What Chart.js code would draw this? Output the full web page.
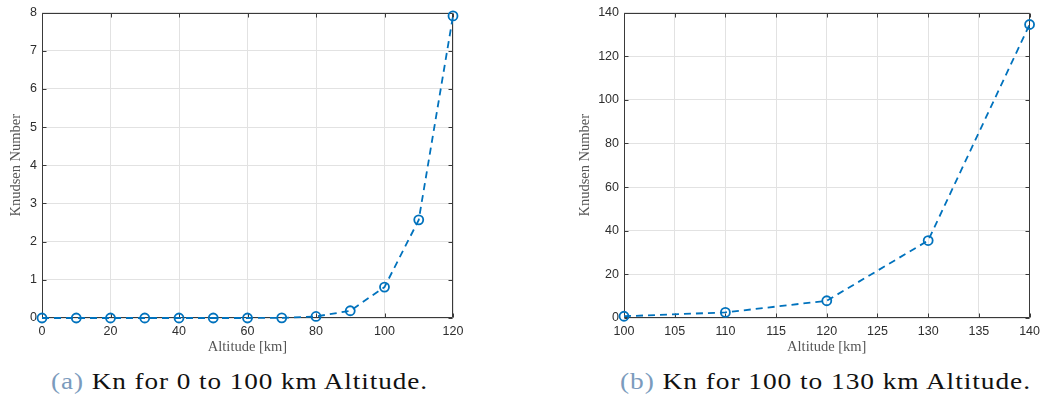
<!DOCTYPE html>
<html>
<head>
<meta charset="utf-8">
<script src="https://cdn.jsdelivr.net/npm/chart.js@4.4.1/dist/chart.umd.min.js"></script>
<style>
  html, body { margin: 0; padding: 0; background: #fff; }
  #page { position: relative; width: 1046px; height: 403px; overflow: hidden; background: #fff; }
  .panel { position: absolute; top: 0; height: 360px; }
  .cap {
    position: absolute; top: 369px;
    font-family: "Liberation Serif", "Times New Roman", serif;
    font-size: 23.5px; line-height: 24px; color: #111; letter-spacing: 0.8px;
    white-space: nowrap; transform-origin: 0 0;
  }
  .cap .tag { color: #7b9bbd; }
</style>
</head>
<body>
<div id="page">
  <div class="panel" style="left:0; width:470px;"><canvas id="lowChart" width="470" height="360"></canvas></div>
  <div class="panel" style="left:560px; width:486px;"><canvas id="highChart" width="486" height="360"></canvas></div>
  <div class="cap" id="capLow" data-left="51" data-width="377"><span class="tag">(a)</span> Kn for 0 to 100 km Altitude.</div>
  <div class="cap" id="capHigh" data-left="620" data-width="411"><span class="tag">(b)</span> Kn for 100 to 130 km Altitude.</div>
</div>
<script>
// Knudsen number against altitude, 0-120 km
const altitudeLow = [0, 10, 20, 30, 40, 50, 60, 70, 80, 90, 100, 110, 120];
const knudsenLow  = [0.0000001, 0.0000003, 0.000001, 0.000005, 0.00002, 0.00007, 0.0003, 0.004, 0.04, 0.19, 0.81, 2.57, 7.91];
const lowXTicks = [0, 20, 40, 60, 80, 100, 120];
const lowYTicks = [0, 1, 2, 3, 4, 5, 6, 7, 8];

// Knudsen number against altitude, 100-140 km
const altitudeHigh = [100, 110, 120, 130, 140];
const knudsenHigh  = [0.81, 2.57, 7.9, 35.5, 134.5];
const highXTicks = [100, 105, 110, 115, 120, 125, 130, 135, 140];
const highYTicks = [0, 20, 40, 60, 80, 100, 120, 140];

const xTitle = 'Altitude [km]';
const yTitle = 'Knudsen Number';

const LINE_BLUE = '#0072BD';
const GRID = '#e2e2e2';
const AXIS = '#3a3a3a';
const TICK_TEXT = '#2e2e2e';
const TITLE_TEXT = '#555555';

// Closed axes box with inward tick marks on all four sides
const boxPlugin = {
  id: 'axesBox',
  beforeDatasetsDraw(chart) {
    const { ctx, chartArea: a, scales } = chart;
    const L = Math.round(a.left) + 0.5, R = Math.round(a.right) - 0.5;
    const T = Math.round(a.top) + 0.5, B = Math.round(a.bottom) - 0.5;
    const len = 4;
    ctx.save();
    ctx.strokeStyle = AXIS;
    ctx.lineWidth = 1;
    ctx.beginPath();
    ctx.rect(L, T, R - L, B - T);
    scales.x.ticks.forEach(t => {
      const px = Math.round(scales.x.getPixelForValue(t.value)) + 0.5;
      ctx.moveTo(px, B); ctx.lineTo(px, B - len);
      ctx.moveTo(px, T); ctx.lineTo(px, T + len);
    });
    scales.y.ticks.forEach(t => {
      const py = Math.round(scales.y.getPixelForValue(t.value)) + 0.5;
      ctx.moveTo(L, py); ctx.lineTo(L + len, py);
      ctx.moveTo(R, py); ctx.lineTo(R - len, py);
    });
    ctx.stroke();
    ctx.restore();
  }
};

function buildChart(id, xs, ys, xTicks, yTicks, geom) {
  const points = xs.map((x, i) => ({ x: x, y: ys[i] }));
  const tickFont = { family: '"Liberation Sans", Arial, sans-serif', size: 12.5 };
  const titleFont = { family: '"Liberation Serif", "Times New Roman", serif', size: 14.5 };
  return new Chart(document.getElementById(id), {
    type: 'line',
    data: {
      datasets: [{
        data: points,
        borderColor: LINE_BLUE,
        borderWidth: 1.8,
        borderDash: [7, 5],
        tension: 0,
        fill: false,
        clip: false,
        pointStyle: 'circle',
        pointRadius: 4.5,
        pointBorderWidth: 1.8,
        pointBorderColor: LINE_BLUE,
        pointBackgroundColor: 'rgba(0,0,0,0)'
      }]
    },
    options: {
      responsive: false,
      animation: false,
      events: [],
      layout: { padding: { left: 0, top: 10, right: geom.padRight, bottom: 0 } },
      plugins: { legend: { display: false }, tooltip: { enabled: false } },
      scales: {
        x: {
          type: 'linear',
          min: xTicks[0], max: xTicks[xTicks.length - 1],
          afterBuildTicks(s) { s.ticks = xTicks.map(v => ({ value: v })); },
          afterFit(s) { s.height = 42; },
          ticks: { color: TICK_TEXT, font: tickFont, padding: 6, maxRotation: 0, autoSkip: false },
          grid: { color: GRID, lineWidth: 1, drawTicks: false },
          border: { display: false },
          title: { display: true, text: xTitle, color: TITLE_TEXT, font: titleFont, padding: { top: 0, bottom: 4 } }
        },
        y: {
          type: 'linear',
          min: yTicks[0], max: yTicks[yTicks.length - 1],
          afterBuildTicks(s) { s.ticks = yTicks.map(v => ({ value: v })); },
          afterFit(s) { s.width = geom.yWidth; },
          ticks: { color: TICK_TEXT, font: tickFont, padding: 5 },
          grid: { color: GRID, lineWidth: 1, drawTicks: false },
          border: { display: false },
          title: { display: true, text: yTitle, color: TITLE_TEXT, font: titleFont, padding: { top: geom.yTitlePad, bottom: 0 } }
        }
      }
    },
    plugins: [boxPlugin]
  });
}

buildChart('lowChart', altitudeLow, knudsenLow, lowXTicks, lowYTicks, { padRight: 17, yWidth: 42, yTitlePad: 7 });
buildChart('highChart', altitudeHigh, knudsenHigh, highXTicks, highYTicks, { padRight: 12, yWidth: 64, yTitlePad: 16 });

// Stretch the sub-figure captions to their set widths
document.querySelectorAll('.cap').forEach(el => {
  el.style.left = el.dataset.left + 'px';
  const w = el.getBoundingClientRect().width;
  el.style.transform = 'scaleX(' + (Number(el.dataset.width) / w) + ')';
});
</script>
</body>
</html>
